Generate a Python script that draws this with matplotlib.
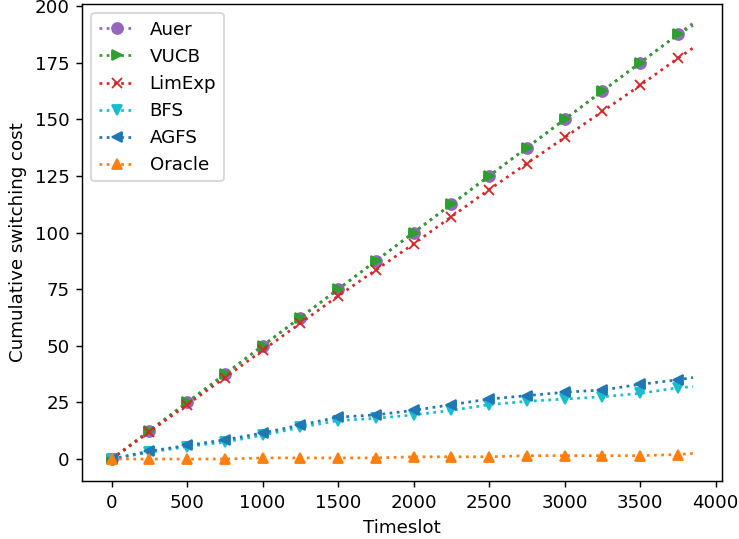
import numpy as np
import matplotlib
matplotlib.use("Agg")
import matplotlib.pyplot as plt

# Timeslots where markers are drawn, plus the final timeslot
timeslots = [0, 250, 500, 750, 1000, 1250, 1500, 1750, 2000, 2250, 2500,
             2750, 3000, 3250, 3500, 3750, 3850]

auer = [0, 12.5, 25, 37.5, 50, 62.5, 75, 87.5, 100, 112.5, 125, 137.5,
        150, 162.5, 175, 187.5, 192.5]
vucb = [0, 12.5, 25, 37.5, 50, 62.5, 75, 87.5, 100, 112.5, 125, 137.5,
        150, 162.5, 175, 187.5, 191.5]
limexp = [0, 12, 24, 36, 48, 60, 72, 83.5, 95, 107, 119, 130.5,
          142, 153.5, 165, 177, 181.5]
bfs = [0, 3, 5.5, 7.5, 10.5, 14, 17, 18, 19.5, 21.5, 24, 25.5,
       26.5, 27.5, 29, 31.5, 32]
agfs = [0, 3.5, 6, 8.5, 11.5, 15, 18.5, 19.5, 21.5, 24, 26.5, 28,
        29.5, 30.5, 33, 35, 36]
oracle = [0, 0, 0, 0, 0.5, 0.5, 0.5, 0.5, 1, 1, 1, 1.5,
          1.5, 1.5, 1.5, 2, 2.5]

series = [
    ("Auer", auer, "tab:purple", "o"),
    ("VUCB", vucb, "tab:green", ">"),
    ("LimExp", limexp, "tab:red", "x"),
    ("BFS", bfs, "tab:cyan", "v"),
    ("AGFS", agfs, "tab:blue", "<"),
    ("Oracle", oracle, "tab:orange", "^"),
]

DPI = 131
fig = plt.figure(figsize=(739 / DPI, 539 / DPI), dpi=DPI)
ax = fig.add_axes([0.1114, 0.108, 0.8652, 0.884])

mark_idx = list(range(len(timeslots) - 1))
for label, vals, color, marker in series:
    ax.plot(timeslots, vals, linestyle=":", color=color, marker=marker,
            markevery=mark_idx, label=label)

ax.set_xlim(-194, 4040)
ax.set_ylim(-9.6, 200.8)
ax.set_xticks([0, 500, 1000, 1500, 2000, 2500, 3000, 3500, 4000])
ax.set_yticks([0, 25, 50, 75, 100, 125, 150, 175, 200])
ax.set_xlabel("Timeslot")
ax.set_ylabel("Cumulative switching cost")
ax.legend(loc="upper left")

fig.savefig("out.png", dpi=DPI)
